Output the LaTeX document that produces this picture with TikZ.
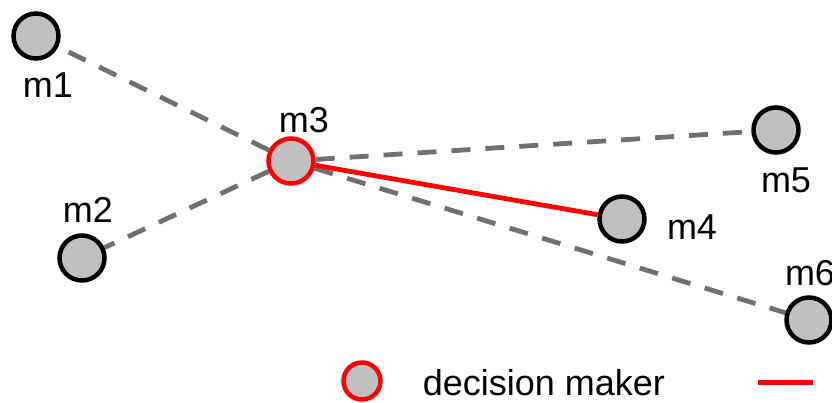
\documentclass[tikz,border=0pt]{standalone}
\usepackage{fontspec}
\setmainfont{Liberation Sans}
\usetikzlibrary{backgrounds}
\definecolor{edgegray}{HTML}{707070}
\definecolor{nodefill}{HTML}{C0C0C0}
\definecolor{dmred}{HTML}{FF0000}
\tikzset{
  agent/.style={circle, draw=black, line width=4.5pt, fill=nodefill, minimum size=45pt, inner sep=0pt},
  dmaker/.style={agent, draw=dmred},
  lbl/.style={inner sep=0pt, font=\fontsize{36}{40}\selectfont},
  link/.style={draw=edgegray, line width=4.8pt, dash pattern=on 19pt off 15pt},
  dmlink/.style={draw=dmred, line width=4.8pt},
}
\begin{document}
\begin{tikzpicture}[x=1pt,y=-1pt]
\useasboundingbox (0,0) rectangle (832,402);
\node[agent] (m1) at (36,36) {};
\node[agent] (m2) at (82,258) {};
\node[dmaker] (m3) at (291,161) {};
\node[agent] (m4) at (622,219) {};
\node[agent] (m5) at (776,130) {};
\node[agent] (m6) at (809,320) {};
\node[lbl] (t1) at (48,85) {m1};
\node[lbl] (t2) at (88,210) {m2};
\node[lbl] (t3) at (304,120) {m3};
\node[lbl] (t4) at (692,227) {m4};
\node[lbl] (t5) at (786,180) {m5};
\node[lbl] (t6) at (810,273) {m6};
\node[dmaker, minimum size=37pt] (lc) at (362,381) {};
\node[lbl] (lt) at (544,383) {decision maker};
\coordinate (la) at (758,382);
\coordinate (lb) at (813,382);
\draw[dmlink, line width=5pt] (la) -- (lb);
\begin{scope}[on background layer]
\draw[link] (m3) -- (m1);
\draw[link] (m3) -- (m2);
\draw[link] (m3) -- (m5);
\draw[link] (m3) -- (m6);
\draw[dmlink] (m3) -- (m4);
\end{scope}
\end{tikzpicture}
\end{document}
